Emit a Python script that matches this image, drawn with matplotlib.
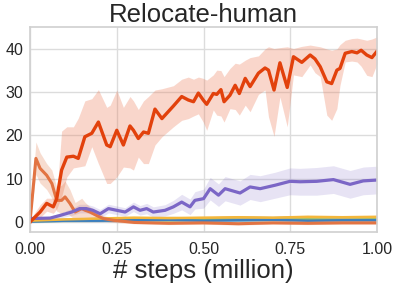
import matplotlib
matplotlib.use("Agg")
import matplotlib.pyplot as plt
import numpy as np

# ---- data ----
# main (red) curve
x_main = [0.0, 0.029, 0.048, 0.067, 0.077, 0.091, 0.106, 0.125, 0.139, 0.158,
          0.178, 0.197, 0.221, 0.231, 0.25, 0.269, 0.288, 0.298, 0.312, 0.327,
          0.341, 0.36, 0.38, 0.413, 0.437, 0.456, 0.471, 0.485, 0.499, 0.509,
          0.528, 0.538, 0.55, 0.559, 0.576, 0.591, 0.603, 0.62, 0.634, 0.658,
          0.677, 0.687, 0.703, 0.72, 0.741, 0.759, 0.783, 0.807, 0.821, 0.836,
          0.855, 0.869, 0.884, 0.893, 0.908, 0.927, 0.942, 0.954, 0.97, 0.985, 1.0]
y_main = [0.0, 2.3, 4.3, 3.5, 5.4, 12.0, 15.0, 15.2, 14.7, 19.7,
          20.5, 23.1, 17.8, 17.4, 21.2, 17.8, 22.2, 21.2, 19.3, 20.8,
          20.5, 26.1, 23.9, 26.8, 29.0, 28.2, 27.8, 29.8, 28.2, 27.2,
          29.7, 29.5, 30.6, 27.8, 29.3, 31.6, 29.7, 33.2, 31.3, 34.4,
          35.6, 35.1, 30.5, 36.8, 31.1, 38.2, 36.9, 38.6, 37.7, 35.9,
          32.4, 32.0, 35.1, 35.5, 39.0, 39.4, 39.1, 39.7, 38.6, 38.0, 39.5]
lo_main = [0.0, 1.0, 2.5, 2.0, 3.0, 5.8, 10.4, 12.5, 12.7, 13.0,
           17.4, 13.5, 8.9, 8.9, 10.4, 12.7, 12.5, 12.0, 15.0, 13.5,
           13.5, 17.8, 19.7, 22.0, 23.5, 23.9, 24.5, 25.0, 23.1, 21.2,
           25.9, 24.7, 24.5, 23.1, 26.2, 26.0, 24.7, 27.0, 25.5, 29.5,
           30.5, 24.3, 19.8, 28.9, 22.0, 34.0, 33.6, 36.3, 34.5, 33.6,
           24.7, 23.5, 26.2, 31.6, 37.0, 37.2, 37.0, 36.0, 33.9, 33.6, 36.6]
hi_main = [0.5, 4.0, 5.5, 5.5, 6.0, 21.0, 22.0, 22.0, 24.0, 28.0,
           28.5, 30.6, 26.5, 27.0, 30.5, 26.5, 29.0, 28.0, 26.0, 28.0,
           29.0, 30.5, 30.8, 31.5, 33.0, 33.5, 33.0, 33.5, 33.2, 32.8,
           34.0, 35.1, 35.0, 33.6, 35.5, 36.7, 36.5, 37.4, 38.0, 38.4,
           40.0, 40.5, 40.1, 40.3, 40.5, 40.1, 40.6, 40.9, 40.7, 40.5,
           40.0, 39.7, 40.0, 41.0, 42.0, 42.4, 42.5, 42.3, 42.0, 42.3, 42.8]

# coral curve (early spike)
x_coral = [0.0, 0.017, 0.029, 0.048, 0.063, 0.077, 0.091, 0.101, 0.115, 0.13,
           0.149, 0.159, 0.173, 0.192, 0.211, 0.24, 0.3, 0.4, 0.5, 0.6,
           0.7, 0.8, 0.9, 1.0]
y_coral = [0.0, 14.7, 12.4, 10.8, 8.9, 5.0, 5.0, 5.8, 4.3, 2.3,
           3.1, 2.7, 2.3, 1.5, 0.8, 0.4, -0.1, -0.3, -0.2, -0.4,
           -0.2, -0.3, -0.2, -0.2]
lo_coral = [0.0, 11.0, 9.0, 7.5, 5.5, 2.5, 2.0, 2.5, 1.5, 0.5,
            1.0, 1.0, 0.8, 0.5, 0.2, -0.1, -0.4, -0.6, -0.5, -0.7,
            -0.5, -0.6, -0.5, -0.5]
hi_coral = [0.5, 18.5, 16.0, 13.5, 12.0, 8.0, 8.5, 9.5, 7.5, 4.5,
            5.5, 4.5, 3.5, 2.6, 1.5, 0.9, 0.2, 0.0, 0.1, -0.1,
            0.1, 0.0, 0.1, 0.1]

# purple curve
x_purp = [0.0, 0.058, 0.086, 0.12, 0.143, 0.162, 0.181, 0.202, 0.226, 0.25,
          0.274, 0.298, 0.317, 0.336, 0.355, 0.389, 0.413, 0.437, 0.461, 0.475,
          0.5, 0.519, 0.543, 0.562, 0.605, 0.634, 0.663, 0.706, 0.749, 0.778,
          0.826, 0.874, 0.922, 0.96, 1.0]
y_purp = [0.8, 0.9, 1.5, 2.3, 3.1, 3.1, 2.7, 1.9, 3.1, 2.7,
          2.3, 3.5, 2.7, 3.1, 2.3, 2.7, 3.5, 4.6, 3.5, 5.0,
          5.4, 7.7, 6.2, 7.7, 6.7, 8.1, 7.7, 8.5, 9.4, 9.3,
          9.4, 9.8, 8.7, 9.5, 9.7]
sd_purp = [0.3, 0.4, 0.6, 0.8, 1.0, 1.0, 1.0, 1.0, 1.0, 1.0,
           1.0, 1.1, 1.1, 1.2, 1.2, 1.3, 1.5, 1.8, 1.8, 2.0,
           2.2, 2.6, 2.6, 2.8, 2.8, 2.9, 3.0, 3.0, 3.1, 3.1,
           3.2, 3.2, 3.2, 3.2, 3.2]

# near-zero curves
x_flat = [0.0, 0.1, 0.2, 0.3, 0.4, 0.5, 0.6, 0.7, 0.8, 0.9, 1.0]
y_yellow = [0.3, 0.6, 0.8, 1.0, 0.9, 1.0, 1.1, 1.0, 1.2, 1.1, 1.2]
y_gray = [0.2, 0.5, 0.7, 0.8, 0.9, 0.8, 1.0, 0.9, 1.1, 1.0, 1.0]
y_green = [0.2, 0.3, 0.4, 0.5, 0.4, 0.6, 0.5, 0.5, 0.6, 0.5, 0.6]
y_blue = [0.1, 0.3, 0.3, 0.4, 0.5, 0.3, 0.4, 0.5, 0.3, 0.4, 0.4]

x_ticks = [0.0, 0.25, 0.5, 0.75, 1.0]
y_ticks = [0, 10, 20, 30, 40]

# ---- plotting ----
plt.rcParams['font.family'] = ['Liberation Sans', 'DejaVu Sans']
fig = plt.figure(figsize=(3.99, 2.86), dpi=100)
ax = fig.add_axes([0.0752, 0.189, 0.870, 0.717])

c_main = '#e2410c'
c_coral = '#e27443'
c_purp = '#7b66c6'

ax.fill_between(x_purp, np.array(y_purp) - np.array(sd_purp),
                np.array(y_purp) + np.array(sd_purp), color=c_purp, alpha=0.18, lw=0)
ax.fill_between(x_main, lo_main, hi_main, color='#ec7a55', alpha=0.3, lw=0)
ax.fill_between(x_coral, lo_coral, hi_coral, color=c_coral, alpha=0.25, lw=0)
for yy, c in [(y_gray, '#a9a9a9'), (y_green, '#9cc05a'), (y_blue, '#3b7fc0'), (y_yellow, '#f4b73c')]:
    ax.fill_between(x_flat, np.array(yy) - 0.3, np.array(yy) + 0.3, color=c, alpha=0.2, lw=0)
    ax.plot(x_flat, yy, color=c, lw=1.8)

ax.plot(x_coral, y_coral, color=c_coral, lw=2.2)
ax.plot(x_purp, y_purp, color=c_purp, lw=2.3)
ax.plot(x_main, y_main, color=c_main, lw=2.4)

ax.set_xlim(0, 1)
ax.set_ylim(-2.3, 45.1)
ax.set_xticks(x_ticks)
ax.set_xticklabels(['%.2f' % v for v in x_ticks])
ax.set_yticks(y_ticks)
ax.grid(True, color='#dcdcdc', lw=1)
ax.set_axisbelow(True)
for s in ax.spines.values():
    s.set_color('#d0d0d0')
    s.set_linewidth(1.2)
ax.tick_params(axis='x', length=0, labelsize=11.5, colors='#262626', pad=7)
ax.tick_params(axis='y', length=0, labelsize=11.5, colors='#262626', pad=5)

ax.set_title('Relocate-human', fontsize=18.5, color='#262626', pad=2)
ax.set_xlabel('# steps (million)', fontsize=18.5, color='#262626', labelpad=2)

fig.savefig('out.png', dpi=100)
